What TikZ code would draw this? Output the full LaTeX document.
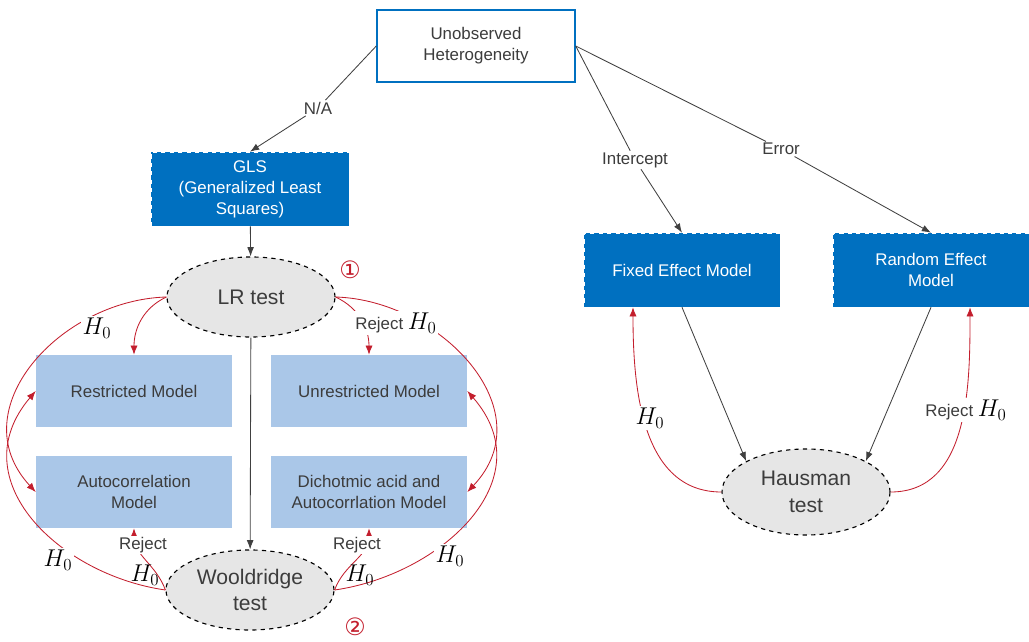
\documentclass[tikz,border=0pt]{standalone}
\usepackage{fontspec}
\setmainfont{Liberation Sans}
\newfontfamily\circfont{DejaVu Sans}
\usetikzlibrary{shapes.geometric,arrows.meta}
\definecolor{boxblue}{RGB}{0,112,192}
\definecolor{paleblue}{RGB}{170,199,232}
\definecolor{testgray}{RGB}{230,230,230}
\definecolor{arrowred}{RGB}{195,30,45}
\definecolor{txtgray}{RGB}{60,60,60}
\newcommand{\hzero}{{\color{black}\fontsize{17}{19}\selectfont$H_0$}}

\begin{document}
\begin{tikzpicture}[x=0.025cm, y=-0.025cm, font=\fontsize{12}{15}\selectfont]
% node styles
\tikzstyle{top_box} = [rectangle, draw=boxblue, line width=1pt, fill=white, minimum width=4.95cm, minimum height=1.8cm, align=center, text=txtgray]
\tikzstyle{dark_box} = [rectangle, draw=white, dashed, fill=boxblue, minimum width=4.95cm, minimum height=1.85cm, align=center, text=white]
\tikzstyle{model_box} = [rectangle, fill=paleblue, minimum width=4.9cm, minimum height=1.8cm, align=center, text=txtgray]
\tikzstyle{test_node} = [ellipse, draw, dashed, thick, fill=testgray, inner sep=0pt, minimum width=4.2cm, minimum height=2cm, align=center, text=txtgray, font=\fontsize{15}{19}\selectfont]
\tikzstyle{edge_label} = [fill=white, inner sep=1pt, text=txtgray]
\tikzstyle{flow} = [-{Latex[length=2.3mm,width=1.7mm]}, black!75, semithick]
\tikzstyle{red_arrow} = [-{Latex[length=2.3mm,width=1.8mm]}, arrowred, semithick]

\useasboundingbox (0,0) rectangle (1029,642);

% Top level
\node[top_box] (het) at (476,46) {Unobserved\\Heterogeneity};

% GLS branch
\node[dark_box] (gls) at (250,189) {GLS\\(Generalized Least\\Squares)};
\node[test_node] (lr) at (251,297) {LR test};
\node[model_box] (restricted) at (134,391) {Restricted Model};
\node[model_box] (unrestricted) at (369,391) {Unrestricted Model};
\node[model_box] (autocorr) at (134,492) {Autocorrelation\\Model};
\node[model_box] (dichot) at (369,492) {Dichotmic acid and\\Autocorrlation Model};
\node[test_node] (wool) at (250,590) {Wooldridge\\test};
\node[text=arrowred, font=\circfont\fontsize{17}{17}\selectfont] (num1) at (350,270) {①};
\node[text=arrowred, font=\circfont\fontsize{17}{17}\selectfont] (num2) at (355,627) {②};

% Panel branch
\node[dark_box, minimum width=4.9cm] (fixed) at (682,270) {Fixed Effect Model};
\node[dark_box, minimum width=4.9cm] (random) at (931,270) {Random Effect\\Model};
\node[test_node, minimum height=2.15cm] (hausman) at (806,492) {Hausman\\test};

% Branch labels
\node[edge_label] (na) at (318,108) {N/A};
\node[edge_label] (intercept) at (635,160) {Intercept};
\node[edge_label] (error) at (781,149) {Error};

% Black connections
\draw[black!75, semithick] (het.west) -- (na);
\draw[flow] (na) -- (gls.north);
\draw[black!75, semithick] (het.east) -- (intercept);
\draw[flow] (intercept) -- (fixed.north);
\draw[black!75, semithick] (het.east) -- (error);
\draw[flow] (error) -- (random.north);
\draw[flow] (gls) -- (lr);
\draw[flow] (lr) -- (wool);
\draw[flow] (fixed.south) -- (hausman.north west);
\draw[flow] (random.south) -- (hausman.north east);

% LR test outcomes
\draw[red_arrow] (lr.west) to[out=205, in=90] (restricted.north);
\draw[red_arrow] (lr.east) to[out=-25, in=90] (unrestricted.north);
\draw[red_arrow] (lr.west) .. controls (60,300) and (-40,410) .. (autocorr.west);
\draw[red_arrow] (lr.east) .. controls (440,300) and (545,410) .. (dichot.east);

% Wooldridge test outcomes
\draw[red_arrow] (wool.west) .. controls (60,575) and (-40,480) .. (restricted.west);
\draw[red_arrow] (wool.east) .. controls (440,575) and (545,480) .. (unrestricted.east);
\draw[red_arrow] (wool.west) to[out=110, in=-90] (autocorr.south);
\draw[red_arrow] (wool.east) to[out=70, in=-90] (dichot.south);

% Hausman test outcomes
\draw[red_arrow] (hausman.west) to[out=180, in=-90] ([xshift=-1.225cm]fixed.south);
\draw[red_arrow] (hausman.east) to[out=0, in=-90] ([xshift=0.975cm]random.south);

% Hypothesis labels
\node[edge_label] (h0lr) at (97,328) {\hzero};
\node[edge_label] (rejlr) at (396,323) {Reject \hzero};
\node[edge_label] (h0wl) at (58,560) {\hzero};
\node[edge_label] (h0wr) at (450,556) {\hzero};
\node[edge_label] (rejwl) at (143,545) {Reject};
\node[inner sep=1pt] (h0wa) at (145,575) {\hzero};
\node[edge_label] (rejwr) at (357,545) {Reject};
\node[inner sep=1pt] (h0wd) at (360,575) {\hzero};
\node[edge_label] (h0fe) at (650,418) {\hzero};
\node[edge_label] (rejre) at (966,410) {Reject \hzero};
\end{tikzpicture}
\end{document}
